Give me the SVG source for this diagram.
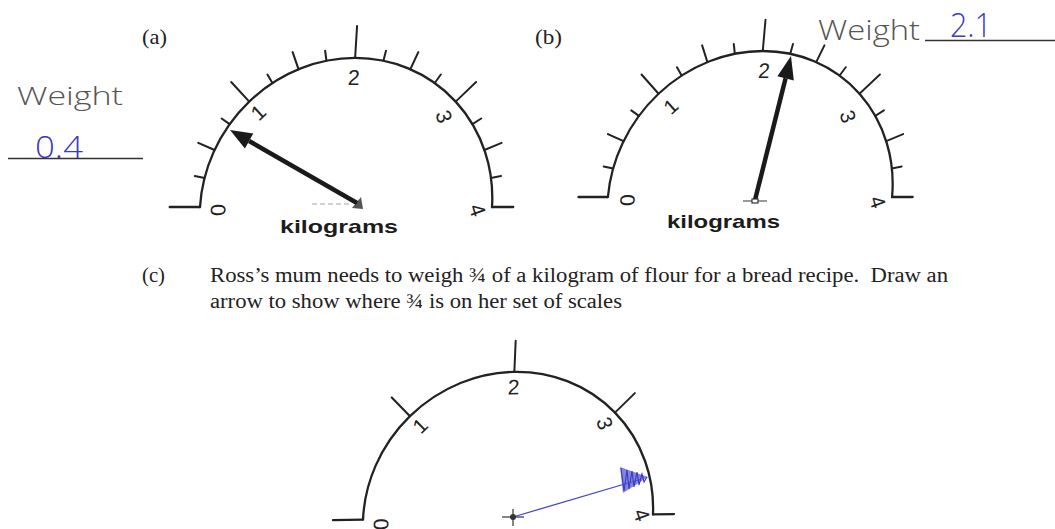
<svg xmlns="http://www.w3.org/2000/svg" width="1055" height="529" viewBox="0 0 1055 529">
<style>
.ink{stroke:#222;fill:none;stroke-linecap:round}
.arc{stroke-width:2.3}
.tk{stroke-width:2}
.num{font-family:"Liberation Sans",Arial,sans-serif;font-size:21px;fill:#222;text-anchor:middle}
.kg{font-family:"Liberation Sans",Arial,sans-serif;font-size:19px;font-weight:bold;fill:#1c1c1c}
.print{font-family:"Liberation Serif","Times New Roman",serif;fill:#222}
.hand{font-family:"Open Sans",sans-serif;font-weight:300;fill:#555}
.blue{font-family:"Open Sans",sans-serif;font-weight:300;fill:#3b3bc4}
.needle{stroke:#1a1a1a;stroke-width:4.5;fill:none}
.head{fill:#1a1a1a}
</style>
<defs>
<g id="dialBase" class="ink">
 <path class="arc" d="M-145 0 A145 145 0 0 1 145 0"/>
 <path class="arc" d="M-145 0 H-175 M145 0 H166"/>
</g>
<g id="majorTicks" class="ink tk">
 <path d="M-102.5 -102.5 L-121.6 -121.6 M0 -145 V-176 M102.5 -102.5 L121.6 -121.6"/>
</g>
<g id="minorTicks" class="ink tk">
 <path d="M-142.2 -28.3 L-152 -30.2 M-134 -55.5 L-150.6 -62.4 M-120.6 -80.6 L-128.9 -86.1 M-80.6 -120.6 L-86.1 -128.9 M-55.5 -134 L-62.4 -150.6 M-28.3 -142.2 L-30.2 -152 M28.3 -142.2 L30.2 -152 M55.5 -134 L62.4 -150.6 M80.6 -120.6 L86.1 -128.9 M120.6 -80.6 L128.9 -86.1 M134 -55.5 L150.6 -62.4 M142.2 -28.3 L152 -30.2"/>
</g>
</defs>
<rect width="1055" height="529" fill="#ffffff"/>

<!-- labels -->
<text class="print" x="142" y="44" font-size="22" textLength="25" lengthAdjust="spacingAndGlyphs">(a)</text>
<text class="print" x="535" y="44" font-size="22" textLength="27" lengthAdjust="spacingAndGlyphs">(b)</text>

<!-- handwritten answers -->
<g id="answerA">
 <text class="hand" x="17" y="105" font-size="25" textLength="106" lengthAdjust="spacingAndGlyphs">Weight</text>
 <text class="blue" x="35" y="158" font-size="31" textLength="48" lengthAdjust="spacingAndGlyphs">0.4</text>
 <line x1="8" y1="158.5" x2="143" y2="158.5" stroke="#333" stroke-width="1.6"/>
</g>
<g id="answerB">
 <text class="hand" x="818" y="40" font-size="27" textLength="102" lengthAdjust="spacingAndGlyphs">Weight</text>
 <text class="blue" x="950" y="37" font-size="33" textLength="42" lengthAdjust="spacingAndGlyphs">2.1</text>
 <line x1="925" y1="40.5" x2="1055" y2="40.5" stroke="#333" stroke-width="1.6"/>
</g>

<!-- dial (a) -->
<g id="dialA">
 <g transform="translate(346 207) skewX(-3.5) scale(1.007 1.028)">
  <use href="#dialBase"/>
  <use href="#majorTicks"/>
  <use href="#minorTicks"/>
  <text class="num" transform="translate(-127 3) rotate(-90)" y="7.5">0</text>
  <text class="num" transform="translate(-93 -92) rotate(-45)" y="7.5">1</text>
  <text class="num" transform="translate(0 -126)" y="7.5">2</text>
  <text class="num" transform="translate(92 -88) rotate(70)" y="7.5">3</text>
  <text class="num" transform="translate(131 3) rotate(70)" y="7.5">4</text>
 </g>
 <line x1="312" y1="204" x2="350" y2="204" stroke="#c4c4c4" stroke-width="1.5" stroke-dasharray="5 3"/>
 <polygon points="352,208 361,197 363,209" fill="#555"/>
 <line class="needle" x1="357" y1="203" x2="249.1" y2="141"/>
 <polygon class="head" points="230,130 253.3,133.6 244.9,148.4"/>
 <text class="kg" x="280" y="233" textLength="118" lengthAdjust="spacingAndGlyphs">kilograms</text>
</g>

<!-- dial (b) -->
<g id="dialB">
 <g transform="translate(750 197) skewX(-5) scale(0.98 1.007)">
  <use href="#dialBase"/>
  <use href="#majorTicks"/>
  <use href="#minorTicks"/>
  <text class="num" transform="translate(-125 3) rotate(-90)" y="7.5">0</text>
  <text class="num" transform="translate(-89 -90) rotate(-45)" y="7.5">1</text>
  <text class="num" transform="translate(3 -126)" y="7.5">2</text>
  <text class="num" transform="translate(93 -80) rotate(70)" y="7.5">3</text>
  <text class="num" transform="translate(131 5) rotate(70)" y="7.5">4</text>
 </g>
 <line x1="743" y1="201" x2="767" y2="201" stroke="#555" stroke-width="1.2"/>
 <line class="needle" x1="755" y1="200" x2="785.6" y2="78.3" stroke-width="4"/>
 <polygon class="head" points="791,56 793.8,80.4 777.4,76.2"/>
 <rect x="752" y="199" width="6" height="4" fill="#fff" stroke="#333" stroke-width="1.2"/>
 <text class="kg" x="667" y="227.5" textLength="113" lengthAdjust="spacingAndGlyphs">kilograms</text>
</g>

<!-- question (c) -->
<g id="questionC">
 <text class="print" x="142" y="282" font-size="20" textLength="23" lengthAdjust="spacingAndGlyphs">(c)</text>
 <text class="print" x="210" y="282" font-size="20" textLength="738" lengthAdjust="spacingAndGlyphs" xml:space="preserve">Ross’s mum needs to weigh ¾ of a kilogram of flour for a bread recipe.  Draw an</text>
 <text class="print" x="210" y="308" font-size="20" textLength="412" lengthAdjust="spacingAndGlyphs">arrow to show where ¾ is on her set of scales</text>
</g>

<!-- dial (c) -->
<g id="dialC">
 <g transform="translate(508 517) rotate(-1) skewX(-3.5)">
  <use href="#dialBase"/>
  <use href="#majorTicks"/>
  <text class="num" transform="translate(-127 5) rotate(-90)" y="7.5">0</text>
  <text class="num" transform="translate(-92 -93) rotate(-45)" y="7.5">1</text>
  <text class="num" transform="translate(0 -130)" y="7.5">2</text>
  <text class="num" transform="translate(93 -92) rotate(70)" y="7.5">3</text>
  <text class="num" transform="translate(134 0) rotate(70)" y="7.5">4</text>
 </g>
 <line x1="513" y1="517" x2="640" y2="479.5" stroke="#4646c8" stroke-width="1.3"/>
 <polygon points="620,467 648,477 623,493" fill="#5a5ad6" fill-opacity="0.75"/>
 <path d="M621,468 L624,491 L627,470 L629,489 L632,471 L634,487 L637,472 L639,485 L642,474 L644,482 L647,477" fill="none" stroke="#3a3ac0" stroke-width="1.1"/>
 <line x1="502" y1="517" x2="524" y2="517" stroke="#333" stroke-width="1.2"/>
 <line x1="513" y1="509" x2="513" y2="526" stroke="#333" stroke-width="1.2"/>
 <circle cx="513" cy="517" r="3" fill="#333"/>
</g>
</svg>
